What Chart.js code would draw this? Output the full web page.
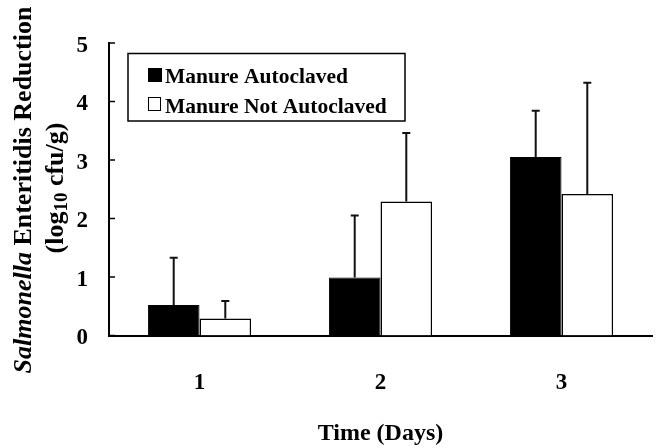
<!DOCTYPE html>
<html>
<head>
<meta charset="utf-8">
<script src="https://cdn.jsdelivr.net/npm/chart.js@4"></script>
<style>
  html, body { margin: 0; padding: 0; background: #fff; }
  #chart { display: block; }
</style>
</head>
<body>
<canvas id="chart" width="656" height="448"></canvas>
<script>
// Salmonella Enteritidis reduction by day, with upper error bars

const days = ['1', '2', '3'];
const seriesNames = ['Manure Autoclaved', 'Manure Not Autoclaved'];
const autoclaved = [0.52, 0.99, 3.05];
const autoclavedErr = [0.81, 1.06, 0.79];
const notAutoclaved = [0.29, 2.29, 2.42];
const notAutoclavedErr = [0.30, 1.17, 1.90];
const yTicks = [0, 1, 2, 3, 4, 5];

const serif = "'Liberation Serif', 'Times New Roman', serif";

// error bars (upper only) plus inside tick marks
const errorBars = {
    id: 'errorBars',
    afterDatasetsDraw(chart) {
        const ctx = chart.ctx;
        const yScale = chart.scales.y;
        const errs = [autoclavedErr, notAutoclavedErr];
        ctx.save();
        ctx.strokeStyle = '#111';
        ctx.lineWidth = 2;
        chart.data.datasets.forEach((ds, i) => {
            const meta = chart.getDatasetMeta(i);
            meta.data.forEach((bar, j) => {
                const top = yScale.getPixelForValue(ds.data[j] + errs[i][j]);
                const base = yScale.getPixelForValue(ds.data[j]);
                ctx.beginPath();
                ctx.moveTo(bar.x, base);
                ctx.lineTo(bar.x, top);
                ctx.moveTo(bar.x - 4, top);
                ctx.lineTo(bar.x + 4, top);
                ctx.stroke();
            });
        });
        // y ticks pointing into the plot
        const left = chart.chartArea.left;
        ctx.strokeStyle = '#000';
        ctx.lineWidth = 1.5;
        yTicks.forEach(v => {
            const y = yScale.getPixelForValue(v);
            ctx.beginPath();
            ctx.moveTo(left, y);
            ctx.lineTo(left + 6, y);
            ctx.stroke();
        });
        ctx.restore();
    }
};

// legend box and axis titles
const annotations = {
    id: 'annotations',
    afterDraw(chart) {
        const ctx = chart.ctx;
        ctx.save();
        ctx.fillStyle = '#000';
        ctx.strokeStyle = '#000';

        // legend
        ctx.lineWidth = 1.5;
        ctx.strokeRect(128, 53.5, 277, 67.5);
        ctx.font = 'bold 21.5px ' + serif;
        ctx.textBaseline = 'alphabetic';
        ctx.textAlign = 'left';
        ctx.fillRect(148, 68, 14, 14);
        ctx.fillText(seriesNames[0], 165, 83);
        ctx.lineWidth = 1;
        ctx.strokeRect(148.5, 97.5, 12, 13);
        ctx.fillText(seriesNames[1], 165, 113);

        // x title
        ctx.font = 'bold 24px ' + serif;
        ctx.textAlign = 'center';
        const cx = (chart.chartArea.left + chart.chartArea.right) / 2;
        ctx.fillText('Time (Days)', cx, 440);

        // y title, two rotated lines
        ctx.textAlign = 'left';
        ctx.save();
        ctx.translate(31, 190);
        ctx.rotate(-Math.PI / 2);
        const part1 = 'Salmonella';
        const part2 = ' Enteritidis Reduction';
        ctx.font = 'italic bold 26px ' + serif;
        const w1 = ctx.measureText(part1).width;
        ctx.font = 'bold 26px ' + serif;
        const w2 = ctx.measureText(part2).width;
        let x = -(w1 + w2) / 2;
        ctx.font = 'italic bold 26px ' + serif;
        ctx.fillText(part1, x, 0);
        ctx.font = 'bold 26px ' + serif;
        ctx.fillText(part2, x + w1, 0);
        ctx.restore();

        ctx.save();
        ctx.translate(63, 188);
        ctx.rotate(-Math.PI / 2);
        ctx.font = 'bold 26px ' + serif;
        const a = '(log', c = ' cfu/g)';
        const wa = ctx.measureText(a).width;
        const wc = ctx.measureText(c).width;
        ctx.font = 'bold 19px ' + serif;
        const wb = ctx.measureText('10').width;
        x = -(wa + wb + wc) / 2;
        ctx.font = 'bold 26px ' + serif;
        ctx.fillText(a, x, 0);
        ctx.font = 'bold 19px ' + serif;
        ctx.fillText('10', x + wa, 4);
        ctx.font = 'bold 26px ' + serif;
        ctx.fillText(c, x + wa + wb, 0);
        ctx.restore();

        ctx.restore();
    }
};

const ctx = document.getElementById('chart').getContext('2d');
new Chart(ctx, {
    type: 'bar',
    data: {
        labels: days,
        datasets: [{
            label: seriesNames[0],
            data: autoclaved,
            backgroundColor: '#000',
            borderColor: '#000',
            borderWidth: 1,
        }, {
            label: seriesNames[1],
            data: notAutoclaved,
            backgroundColor: '#fff',
            borderColor: '#000',
            borderWidth: 1.5,
        }],
    },
    options: {
        responsive: false,
        animation: false,
        categoryPercentage: 0.57,
        barPercentage: 1.0,
        layout: {
            padding: { top: 43, right: 4, left: 0, bottom: 0 }
        },
        plugins: {
            legend: { display: false },
            tooltip: { enabled: false },
        },
        scales: {
            x: {
                grid: { display: false, drawTicks: false },
                border: { display: true, color: '#000', width: 2 },
                ticks: {
                    color: '#000',
                    padding: 34,
                    font: { family: serif, size: 23, weight: 'bold' }
                },
                afterFit(scale) {
                    scale.height = 112.5;
                    scale.paddingLeft = 0;
                    scale.paddingRight = 0;
                }
            },
            y: {
                min: 0,
                max: 5,
                grid: { display: false, drawTicks: false },
                border: { display: true, color: '#000', width: 2 },
                ticks: {
                    stepSize: 1,
                    color: '#000',
                    padding: 21,
                    labelOffset: 3,
                    font: { family: serif, size: 23, weight: 'bold' }
                },
                afterFit(scale) {
                    scale.width = 109;
                    scale.paddingTop = 0;
                    scale.paddingBottom = 0;
                }
            }
        }
    },
    plugins: [errorBars, annotations]
});
</script>
</body>
</html>
